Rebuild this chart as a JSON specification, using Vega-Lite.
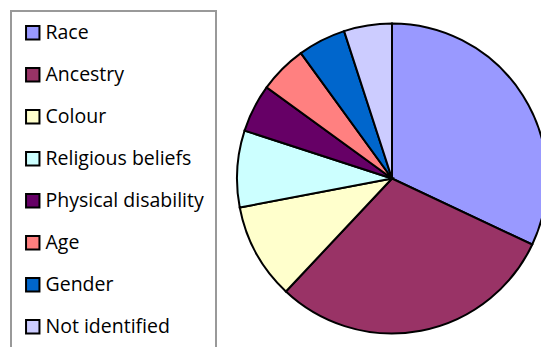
{
  "$schema": "https://vega.github.io/schema/vega-lite/v6.json",
  "autosize": "none",
  "padding": {"left": 237, "top": 0, "right": 0, "bottom": 0},
  "width": 310,
  "height": 357,
  "background": "white",
  "data": {
    "values": [
      {"category": "Race", "value": 32, "idx": 1},
      {"category": "Ancestry", "value": 30, "idx": 2},
      {"category": "Colour", "value": 10, "idx": 3},
      {"category": "Religious beliefs", "value": 8, "idx": 4},
      {"category": "Physical disability", "value": 5, "idx": 5},
      {"category": "Age", "value": 5, "idx": 6},
      {"category": "Gender", "value": 5, "idx": 7},
      {"category": "Not identified", "value": 5, "idx": 8}
    ]
  },
  "mark": {"type": "arc", "outerRadius": 155, "stroke": "black", "strokeWidth": 2},
  "encoding": {
    "theta": {"field": "value", "type": "quantitative", "stack": true},
    "order": {"field": "idx", "type": "quantitative"},
    "color": {
      "field": "category",
      "type": "nominal",
      "scale": {
        "domain": ["Race", "Ancestry", "Colour", "Religious beliefs", "Physical disability", "Age", "Gender", "Not identified"],
        "range": ["#9999FF", "#993366", "#FFFFCC", "#CCFFFF", "#660066", "#FF8080", "#0066CC", "#CCCCFF"]
      },
      "legend": {
        "title": null,
        "orient": "none",
        "legendX": -226,
        "legendY": 11,
        "symbolType": "square",
        "symbolSize": 180,
        "symbolStrokeColor": "black",
        "symbolStrokeWidth": 2,
        "symbolOpacity": 1,
        "labelFont": "Open Sans",
        "labelFontSize": 19.5,
        "labelColor": "black",
        "labelOffset": 3,
        "labelLimit": 300,
        "rowPadding": 20,
        "padding": 12,
        "strokeColor": "#999999",
        "encode": {"legend": {"update": {"strokeWidth": {"value": 2}}}}
      }
    }
  },
  "config": {"view": {"stroke": null}}
}
